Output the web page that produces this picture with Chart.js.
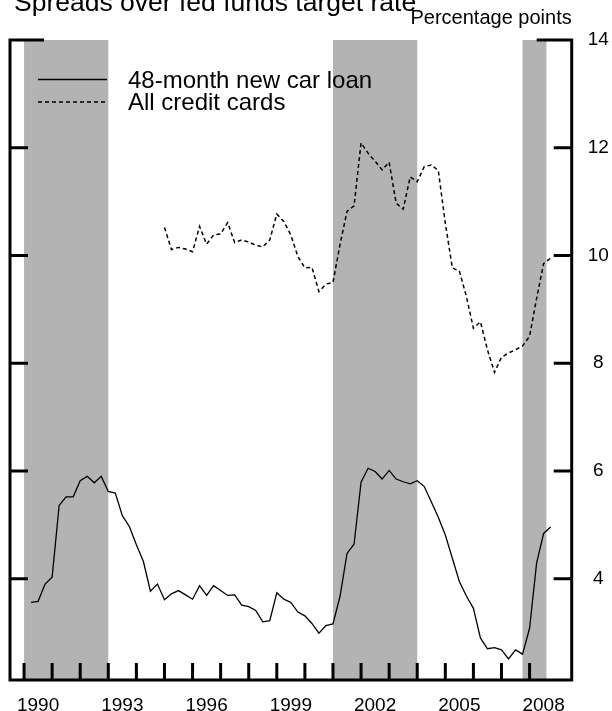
<!DOCTYPE html>
<html>
<head>
<meta charset="utf-8">
<script src="https://cdn.jsdelivr.net/npm/chart.js@4/dist/chart.umd.min.js"></script>
<style>
  html, body { margin: 0; padding: 0; background: #fff; }
  canvas { display: block; }
</style>
</head>
<body>
<canvas id="graficoSpreads" width="612" height="711"></canvas>
<script>
// datos trimestrales, primer punto = 1990 T1 (se dibuja al cierre del trimestre)
const carLoanStart = 1990.25;
const carLoan = [
    3.56, 3.58, 3.90,
    4.03, 5.36, 5.52, 5.52,
    5.82, 5.90, 5.78, 5.90,
    5.62, 5.59, 5.17, 4.97,
    4.63, 4.32, 3.77, 3.90,
    3.61, 3.72, 3.78, 3.70,
    3.62, 3.87, 3.69, 3.87,
    3.78, 3.69, 3.70, 3.51,
    3.48, 3.41, 3.20, 3.22,
    3.74, 3.62, 3.56, 3.38,
    3.31, 3.17, 2.99, 3.13,
    3.16, 3.67, 4.47, 4.64,
    5.79, 6.05, 5.99, 5.85,
    6.01, 5.85, 5.80, 5.76,
    5.82, 5.71, 5.43, 5.14,
    4.81, 4.38, 3.95, 3.68,
    3.45, 2.90, 2.70, 2.72,
    2.68, 2.51, 2.68, 2.60,
    3.08, 4.29, 4.84, 4.96
];
const creditCardStart = 1995.0;
const creditCards = [
    10.52, 10.11, 10.15, 10.12,
    10.07, 10.54, 10.21, 10.38,
    10.40, 10.61, 10.24, 10.29,
    10.25, 10.19, 10.16, 10.29,
    10.77, 10.63, 10.38, 9.98,
    9.77, 9.78, 9.33, 9.47,
    9.50, 10.20, 10.82, 10.92,
    12.09, 11.90, 11.75, 11.59,
    11.73, 10.97, 10.86, 11.46,
    11.37, 11.65, 11.68, 11.58,
    10.60, 9.77, 9.71, 9.24,
    8.65, 8.77, 8.25, 7.83,
    8.11, 8.19, 8.25, 8.32,
    8.50, 9.20, 9.85, 9.95
];
const shadedPeriods = [[1990.0, 1993.0], [2001.0, 2004.0], [2007.75, 2008.6]];
const yearLabels = [1990, 1993, 1996, 1999, 2002, 2005, 2008];
const yTicks = [4, 6, 8, 10, 12, 14];
const seriesNames = ['48-month new car loan', 'All credit cards'];
const titulo = 'Spreads over fed funds target rate';
const unidades = 'Percentage points';

const FUENTE = '"Liberation Sans", Arial, Helvetica, sans-serif';

function toPoints(start, values) {
    const pts = [];
    for (let i = 0; i < values.length; i++) {
        pts.push({ x: start + i / 4, y: values[i] });
    }
    return pts;
}

// sombreado, marco con marcas hacia adentro, leyenda y textos
const marcoFed = {
    id: 'marcoFed',
    beforeDatasetsDraw(chart) {
        const ctx = chart.ctx;
        const area = chart.chartArea;
        const xs = chart.scales.x;
        ctx.save();
        ctx.fillStyle = '#b3b3b3';
        for (let p of shadedPeriods) {
            const x1 = xs.getPixelForValue(p[0]);
            const x2 = xs.getPixelForValue(p[1]);
            ctx.fillRect(x1, area.top, x2 - x1, area.bottom - area.top);
        }
        ctx.restore();
    },
    afterDatasetsDraw(chart) {
        const ctx = chart.ctx;
        const area = chart.chartArea;
        const xs = chart.scales.x;
        const ys = chart.scales.y;
        ctx.save();
        ctx.strokeStyle = '#000';
        ctx.lineWidth = 3;
        ctx.lineJoin = 'miter';
        ctx.lineCap = 'butt';
        // marco
        ctx.beginPath();
        ctx.moveTo(area.right - 35, area.top);
        ctx.lineTo(area.right, area.top);
        ctx.lineTo(area.right, area.bottom);
        ctx.lineTo(area.left, area.bottom);
        ctx.lineTo(area.left, area.top);
        ctx.lineTo(area.left + 34, area.top);
        ctx.stroke();
        // marcas de años
        ctx.beginPath();
        for (let yr = Math.ceil(xs.min); yr <= Math.floor(xs.max); yr++) {
            if (yr > 2008) continue;
            const px = xs.getPixelForValue(yr);
            ctx.moveTo(px, area.bottom - 17);
            ctx.lineTo(px, area.bottom);
        }
        // marcas del eje vertical
        for (let v of yTicks) {
            if (v === 14) continue;
            const py = ys.getPixelForValue(v);
            ctx.moveTo(area.left, py);
            ctx.lineTo(area.left + 18, py);
            ctx.moveTo(area.right - 18, py);
            ctx.lineTo(area.right, py);
        }
        ctx.stroke();
        ctx.restore();
    },
    afterDraw(chart) {
        const ctx = chart.ctx;
        const area = chart.chartArea;
        ctx.save();
        ctx.fillStyle = '#000';
        ctx.textBaseline = 'alphabetic';
        ctx.font = '26.5px ' + FUENTE;
        ctx.textAlign = 'left';
        ctx.fillText(titulo, 14, 11);
        ctx.font = '20px ' + FUENTE;
        ctx.textAlign = 'right';
        ctx.fillText(unidades, area.right, 24);

        // leyenda
        ctx.font = '24px ' + FUENTE;
        ctx.textAlign = 'left';
        const filas = [79.5, 102];
        chart.data.datasets.forEach(function(ds, i) {
            const y = filas[i];
            ctx.save();
            ctx.strokeStyle = ds.borderColor;
            ctx.lineWidth = ds.borderWidth;
            ctx.setLineDash(ds.borderDash || []);
            ctx.beginPath();
            ctx.moveTo(38, y);
            ctx.lineTo(107, y);
            ctx.stroke();
            ctx.restore();
            ctx.fillText(ds.label, 128, y + 8);
        });
        ctx.restore();
    }
};

const grafico = new Chart(document.getElementById('graficoSpreads'), {
    type: 'line',
    data: {
        datasets: [
            {
                label: seriesNames[0],
                data: toPoints(carLoanStart, carLoan),
                borderColor: '#000',
                borderWidth: 1.3,
                pointRadius: 0,
                tension: 0,
                fill: false
            },
            {
                label: seriesNames[1],
                data: toPoints(creditCardStart, creditCards),
                borderColor: '#000',
                borderWidth: 1.5,
                borderDash: [4, 3],
                pointRadius: 0,
                tension: 0,
                fill: false
            }
        ]
    },
    options: {
        responsive: false,
        animation: false,
        layout: { padding: { left: 10, top: 40, right: 0, bottom: 0 } },
        plugins: {
            legend: { display: false },
            tooltip: { enabled: false },
            title: { display: false }
        },
        scales: {
            x: {
                type: 'linear',
                min: 1989.5,
                max: 2009.5,
                grid: { display: false },
                border: { display: false },
                afterBuildTicks: function(s) {
                    s.ticks = yearLabels.map(y => ({ value: y + 0.5 }));
                },
                afterFit: function(s) { s.height = 31; },
                ticks: {
                    autoSkip: false,
                    maxRotation: 0,
                    padding: 6,
                    color: '#000',
                    font: { family: FUENTE, size: 19 },
                    callback: v => String(Math.floor(v))
                }
            },
            y: {
                position: 'right',
                min: 2.12,
                max: 14,
                grid: { display: false },
                border: { display: false },
                afterBuildTicks: function(s) {
                    s.ticks = yTicks.map(v => ({ value: v }));
                },
                afterFit: function(s) { s.width = 40.3; },
                ticks: {
                    padding: 8,
                    crossAlign: 'center',
                    color: '#000',
                    font: { family: FUENTE, size: 19 }
                }
            }
        }
    },
    plugins: [marcoFed]
});
</script>
</body>
</html>
